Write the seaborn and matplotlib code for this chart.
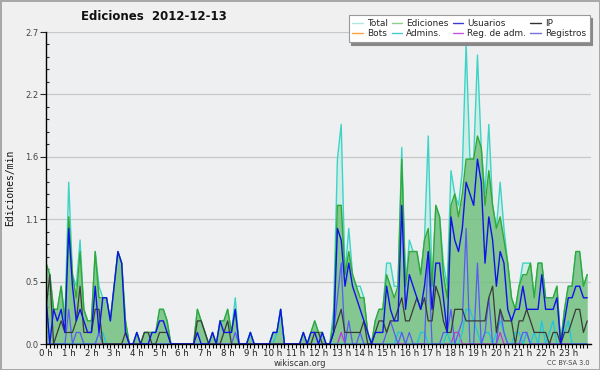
import numpy as np
import pandas as pd
import matplotlib
matplotlib.use("Agg")
import matplotlib.pyplot as plt
from matplotlib.lines import Line2D
import seaborn as sns

# ---- data: edits per minute, 10-minute buckets, 2012-12-13 ----
total = [
    .7, .6, .3, .3, .5, .2,   1.4, .6, .5, .9, .3, .2,   .2, .8, .5, .4, .4, .2,
    .5, .8, .7, .2, 0, 0,     .1, 0, .1, .1, .1, .1,     .3, .3, .2, 0, 0, 0,
    0, 0, 0, 0, .3, .2,       .1, 0, .1, 0, .2, .2,      .3, .1, .4, 0, 0, 0,
    .1, 0, 0, 0, 0, 0,        .1, .1, .3, 0, 0, 0,       0, 0, .1, 0, .1, .2,
    .1, .1, 0, 0, .3, 1.6,    1.9, .6, 1.0, .6, .5, .5,  .4, .1, 0, .2, .3, .3,
    .7, .7, .5, .5, 1.7, .5,  .9, .8, .8, .6, .9, 1.8,   .5, 1.2, 1.1, .7, .5, 1.5,
    1.3, 1.2, 1.5, 2.6, 1.6, 1.6,  2.5, 1.7, 1.3, 1.9, 1.2, 1.0,  1.4, 1.0, .7, .4, .3, .5,
    .7, .7, .7, .4, .7, .7,   .4, .4, .4, .5, 0, .3,     .5, .5, .8, .8, .5, .6,
]
ediciones = [
    .7, .6, .3, .3, .5, .2,   1.1, .6, .4, .8, .3, .2,   .2, .8, .4, .4, .4, .2,
    .5, .8, .7, .2, 0, 0,     .1, 0, .1, .1, .1, .1,     .3, .3, .2, 0, 0, 0,
    0, 0, 0, 0, .3, .2,       .1, 0, .1, 0, .2, .2,      .3, .1, .3, 0, 0, 0,
    .1, 0, 0, 0, 0, 0,        .1, .1, .3, 0, 0, 0,       0, 0, .1, 0, .1, .2,
    .1, .1, 0, 0, .2, 1.2,    1.2, .6, .8, .6, .5, .4,   .4, .1, 0, .2, .3, .3,
    .6, .5, .4, .5, 1.6, .5,  .8, .8, .8, .6, .9, 1.0,   .5, 1.2, 1.1, .6, .4, 1.2,
    1.3, 1.1, 1.3, 1.6, 1.6, 1.6,  1.8, 1.7, 1.2, 1.5, 1.2, 1.0,  1.1, .9, .7, .4, .3, .5,
    .6, .6, .7, .4, .7, .7,   .4, .4, .4, .5, 0, .3,     .5, .5, .8, .8, .5, .6,
]
usuarios = [
    .4, 0, .3, .2, .3, .1,    1.0, .5, .2, .3, .2, .1,   .1, .5, .1, .4, .4, .2,
    .5, .8, .7, .1, 0, 0,     .1, 0, 0, 0, .1, .1,       .2, .2, .1, 0, 0, 0,
    0, 0, 0, 0, .1, 0,        0, 0, .1, 0, .2, .1,       .1, .1, .3, 0, 0, 0,
    .1, 0, 0, 0, 0, 0,        .1, .1, .3, 0, 0, 0,       0, 0, .1, 0, .1, .1,
    0, .1, 0, 0, .1, 1.0,     .9, .5, .7, .5, .4, .3,    .2, .1, 0, .1, .1, .1,
    .5, .3, .2, .2, 1.2, .3,  .6, .5, .4, .3, .5, .8,    .3, .7, .7, .4, .1, 1.1,
    .9, .8, 1.0, 1.4, 1.3, 1.2,  1.6, 1.4, .7, 1.1, .9, .5,  .8, .7, .3, .2, .3, .3,
    .5, .3, .3, .3, .3, .6,   .3, .3, .3, .4, 0, .2,     .4, .4, .5, .5, .4, .4,
]
ip = [
    .3, .6, 0, .1, .2, .1,    .1, .1, .2, .5, .1, .1,    .1, .3, .3, 0, 0, 0,
    0, 0, 0, .1, 0, 0,        0, 0, .1, .1, 0, 0,        .1, .1, .1, 0, 0, 0,
    0, 0, 0, 0, .2, .2,       .1, 0, 0, 0, 0, .1,        .2, 0, 0, 0, 0, 0,
    0, 0, 0, 0, 0, 0,         0, 0, 0, 0, 0, 0,          0, 0, 0, 0, 0, .1,
    .1, 0, 0, 0, .1, .2,      .3, .1, .1, .1, .1, .1,    .2, 0, 0, .1, .2, .2,
    .1, .2, .2, .3, .4, .2,   .2, .3, .4, .3, .4, .2,    .2, .5, .4, .2, .1, .1,
    .3, .3, .3, .2, .2, .2,   .2, .2, .2, .4, .5, .1,    .3, .2, .2, .2, 0, .2,
    .2, .3, .2, .1, .1, .1,   .1, 0, .1, .1, 0, .1,      .1, .2, .3, .3, .1, .2,
]
bots = [0] * 144
admins = [
    .4, 0, 0, 0, 0, 0,        0, 0, 0, 0, 0, 0,          0, 0, .1, .1, 0, 0,
    0, 0, 0, 0, 0, 0,         0, 0, 0, 0, 0, 0,          0, 0, 0, 0, 0, 0,
    0, 0, 0, 0, 0, 0,         0, 0, 0, 0, 0, 0,          0, 0, 0, 0, 0, 0,
    .1, 0, 0, 0, 0, 0,        0, .1, .3, 0, 0, 0,        0, 0, 0, 0, 0, 0,
    0, 0, 0, 0, 0, 0,         0, 0, 0, 0, 0, 0,          0, 0, 0, 0, 0, 0,
    0, 0, 0, .1, .1, 0,       0, 0, 0, .1, .1, 0,        0, 0, 0, 0, .1, 0,
    0, 0, .1, .3, .3, .2,     .1, 0, .1, .1, 0, .1,      .2, .1, 0, 0, .1, .1,
    0, .1, 0, .1, 0, .2,      0, .1, .2, 0, 0, .1,       .2, 0, 0, 0, 0, 0,
]
reg_adm = [0] * 144
for k in (78, 108, 109, 120, 127):
    reg_adm[k] = .1
registros = [
    0, 0, 0, 0, 0, 0,         .3, 0, .1, .1, 0, 0,       0, 0, .1, 0, 0, 0,
    0, 0, 0, 0, 0, 0,         0, 0, 0, 0, 0, 0,          0, 0, 0, 0, 0, 0,
    0, 0, 0, 0, 0, 0,         0, 0, 0, 0, 0, 0,          0, 0, .1, 0, 0, 0,
    0, 0, 0, 0, 0, 0,         0, 0, 0, 0, 0, 0,          0, 0, 0, 0, 0, 0,
    0, 0, 0, 0, .1, .4,       .7, 0, .2, 0, 0, .1,       0, 0, 0, 0, 0, 0,
    .1, .2, .1, 0, .1, 0,     .1, 0, 0, 0, 0, .8,        0, 0, 0, .1, .1, .3,
    0, .1, .2, 1.0, 0, 0,     .7, 0, .1, .4, 0, 0,       .3, .1, 0, 0, 0, 0,
    .1, .1, 0, 0, 0, 0,       0, 0, 0, 0, 0, 0,          0, 0, 0, 0, 0, 0,
]
minutes = np.arange(0, 1440, 10)
hour_labels = [f"{h} h" for h in range(24)]
ytick_vals = [0.0, 0.54, 1.08, 1.62, 2.16, 2.7]
ytick_labels = ["0.0", "0.5", "1.1", "1.6", "2.2", "2.7"]

series_names = ["Total", "Ediciones", "Usuarios", "IP", "Bots", "Admins.",
                "Reg. de adm.", "Registros"]
series_vals = [total, ediciones, usuarios, ip, bots, admins, reg_adm, registros]
line_colors = {"Total": "#3fd3c6", "Ediciones": "#34a834", "Usuarios": "#1212e8",
               "IP": "#3a3a3a", "Bots": "#ff9a2e", "Admins.": "#1ec4e4",
               "Reg. de adm.": "#c833e0", "Registros": "#5a5af5"}
legend_colors = {"Total": "#aee8df", "Ediciones": "#8ad08a", "Usuarios": "#3c3cd0",
                 "IP": "#333333", "Bots": "#ffa040", "Admins.": "#45c8d8",
                 "Reg. de adm.": "#c455e0", "Registros": "#7272e0"}

hours = minutes / 60.0
df = pd.DataFrame({"t": np.tile(hours, len(series_names)),
                   "v": np.concatenate([np.array(s, float) for s in series_vals]),
                   "serie": np.repeat(series_names, len(hours))})

sns.set_style("ticks")
plt.rcParams["font.family"] = ["DejaVu Sans"]

fig = plt.figure(figsize=(6.0, 3.7), dpi=100, facecolor="#f0f0f0")
fig.patch.set_edgecolor("#a8a8a8")
fig.patch.set_linewidth(2)
ax = fig.add_axes([46 / 600, 1 - 344 / 370, 545 / 600, 312 / 370])
ax.set_facecolor("#edeff1")

ax.fill_between(hours, np.array(total, float), color="#bfeee4", alpha=0.7, lw=0, zorder=1)
ax.fill_between(hours, np.array(ediciones, float), color="#4aa84a", alpha=0.55, lw=0, zorder=2)

draw_order = ["Total", "Ediciones", "Bots", "Reg. de adm.", "Admins.", "Registros", "IP", "Usuarios"]
widths = {"Total": 1.0, "Ediciones": 1.0, "Usuarios": 1.0, "IP": 0.9, "Bots": 0.8,
          "Admins.": 0.9, "Reg. de adm.": 0.9, "Registros": 0.9}
for z, name in enumerate(draw_order):
    sns.lineplot(data=df[df["serie"] == name], x="t", y="v", color=line_colors[name],
                 linewidth=widths[name], ax=ax, legend=False, zorder=3 + z,
                 estimator=None, errorbar=None)

ax.set_xlim(0, 24)
ax.set_ylim(0, 2.7)
ax.set_xlabel("")
ax.set_ylabel("")
ax.set_xticks(range(24))
ax.set_xticklabels(hour_labels, fontsize=6.2, color="#222222")
ax.set_xticks(minutes / 60.0, minor=True)
ax.tick_params(axis="x", which="both", direction="out", length=3.0, width=0.8,
               color="black", pad=0.3)
ax.set_yticks(ytick_vals)
ax.set_yticklabels(ytick_labels, fontsize=6, color="#444444")
ax.set_yticks(np.arange(0, 2.71, 0.108), minor=True)
ax.tick_params(axis="y", which="major", direction="out", length=4.5, width=0.8, pad=1)
ax.tick_params(axis="y", which="minor", direction="in", length=2.5, width=0.8)
ax.yaxis.grid(True, which="major", color="#c8c8c8", linewidth=0.9)
ax.set_axisbelow(True)
for s in ("top", "right"):
    ax.spines[s].set_visible(False)
for s in ("left", "bottom"):
    ax.spines[s].set_color("black")
    ax.spines[s].set_linewidth(1.0)
    ax.spines[s].set_zorder(20)

fig.text(154 / 600, 1 - 17 / 370, "Ediciones  2012-12-13", ha="center", va="center",
         fontsize=8.5, fontweight="bold", color="#111111")
fig.text(10 / 600, 1 - 188 / 370, "Ediciones/min", rotation=90, ha="center", va="center",
         fontsize=7, family="DejaVu Sans Mono", color="#111111")
fig.text(300 / 600, 1 - 363.5 / 370, "wikiscan.org", ha="center", va="center",
         fontsize=6, color="#333333")
fig.text(590 / 600, 1 - 363 / 370, "CC BY-SA 3.0", ha="right", va="center",
         fontsize=4.8, color="#444444")

leg_order = ["Total", "Bots", "Ediciones", "Admins.", "Usuarios", "Reg. de adm.",
             "IP", "Registros"]
handles = [Line2D([0], [0], color=legend_colors[n], lw=1.0) for n in leg_order]
leg = fig.legend(handles, leg_order, ncol=4, loc="upper right",
                 bbox_to_anchor=(594 / 600, 1 - 11 / 370), fontsize=6.4,
                 handlelength=1.2, handletextpad=0.45, columnspacing=0.45,
                 labelspacing=0.15, borderpad=0.4, frameon=True, fancybox=False,
                 shadow={"color": "#888888", "alpha": 1.0}, edgecolor="#999999")
leg.get_frame().set_facecolor("white")
leg.get_frame().set_linewidth(0.8)

fig.savefig("out.png", dpi=100, facecolor=fig.get_facecolor(), edgecolor=fig.patch.get_edgecolor())
